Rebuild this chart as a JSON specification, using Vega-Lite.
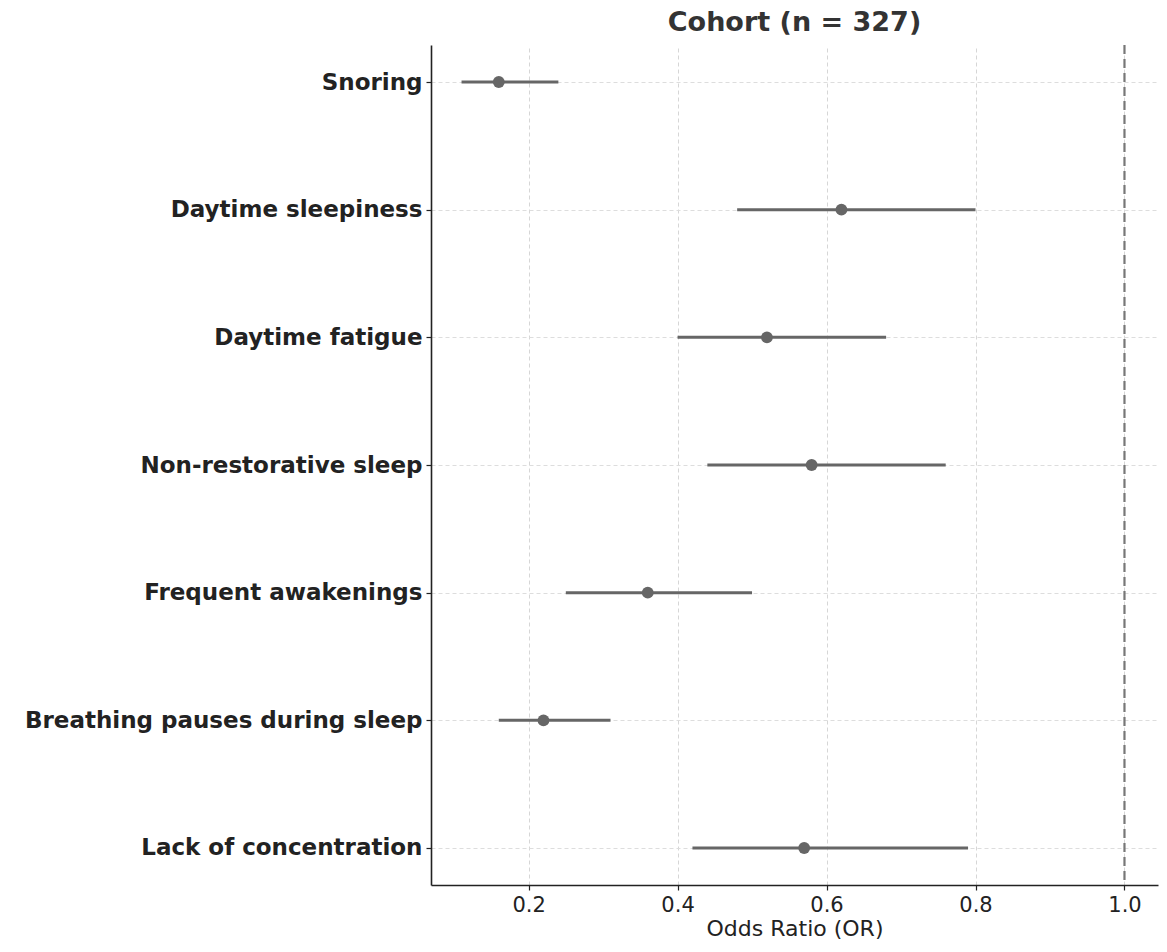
{
  "$schema": "https://vega.github.io/schema/vega-lite/v6.json",
  "autosize": {"type": "none"},
  "padding": {"left": 431, "top": 45, "right": 9, "bottom": 67},
  "width": 727,
  "height": 840,
  "background": "white",
  "title": {"text": "Cohort (n = 327)", "font": "DejaVu Sans", "fontSize": 27, "fontWeight": "bold", "color": "#333333", "offset": 7, "anchor": "middle"},
  "config": {
    "view": {"stroke": null},
    "font": "DejaVu Sans"
  },
  "data": {"values": [
    {"symptom": "Snoring", "or": 0.16, "lo": 0.11, "hi": 0.24},
    {"symptom": "Daytime sleepiness", "or": 0.62, "lo": 0.48, "hi": 0.80},
    {"symptom": "Daytime fatigue", "or": 0.52, "lo": 0.40, "hi": 0.68},
    {"symptom": "Non-restorative sleep", "or": 0.58, "lo": 0.44, "hi": 0.76},
    {"symptom": "Frequent awakenings", "or": 0.36, "lo": 0.25, "hi": 0.50},
    {"symptom": "Breathing pauses during sleep", "or": 0.22, "lo": 0.16, "hi": 0.31},
    {"symptom": "Lack of concentration", "or": 0.57, "lo": 0.42, "hi": 0.79}
  ]},
  "encoding": {
    "y": {
      "field": "symptom", "type": "nominal", "sort": null,
      "scale": {"type": "point", "padding": 0.29},
      "axis": {
        "title": null, "labelFont": "DejaVu Sans", "labelFontSize": 23, "labelFontWeight": "bold", "labelColor": "#222222",
        "labelLimit": 0, "labelPadding": 4, "tickSize": 5, "tickColor": "#222222", "tickWidth": 1.2,
        "domainColor": "#222222", "domainWidth": 1.6,
        "grid": true, "gridColor": "#dddddd", "gridDash": [4, 3], "gridWidth": 1
      }
    }
  },
  "layer": [
    {
      "mark": {"type": "rule", "color": "#666666", "strokeWidth": 3},
      "encoding": {
        "x": {
          "field": "lo", "type": "quantitative",
          "scale": {"domain": [0.069, 1.045], "nice": false, "zero": false},
          "axis": {
            "title": "Odds Ratio (OR)", "titleFont": "DejaVu Sans", "titleFontSize": 22, "titleFontWeight": "normal", "titleColor": "#222222", "titlePadding": 3,
            "values": [0.2, 0.4, 0.6, 0.8, 1.0], "format": ".1f",
            "labelFont": "DejaVu Sans", "labelFontSize": 21, "labelColor": "#222222", "labelPadding": 4,
            "tickSize": 5, "tickColor": "#222222", "tickWidth": 1.2,
            "domainColor": "#222222", "domainWidth": 1.6,
            "grid": true, "gridColor": "#d6d6d6", "gridDash": [4, 3], "gridWidth": 1
          }
        },
        "x2": {"field": "hi"}
      }
    },
    {
      "mark": {"type": "point", "filled": true, "shape": "circle", "size": 140, "color": "#666666", "opacity": 1},
      "encoding": {
        "x": {"field": "or", "type": "quantitative"}
      }
    },
    {
      "data": {"values": [{"ref": 1.0}]},
      "mark": {"type": "rule", "color": "#777777", "strokeWidth": 2.2, "strokeDash": [9, 5]},
      "encoding": {
        "x": {"field": "ref", "type": "quantitative"},
        "y": {"value": 0},
        "y2": {"value": 840}
      }
    }
  ]
}
